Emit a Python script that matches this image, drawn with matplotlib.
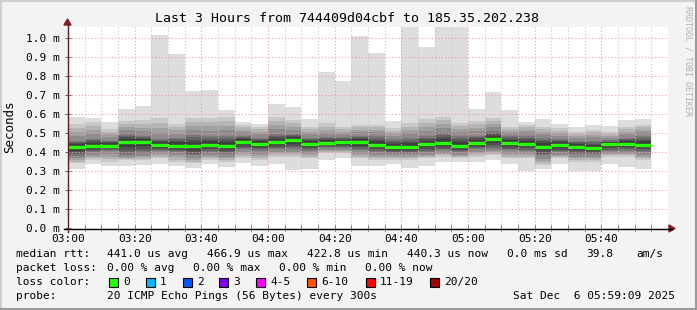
import matplotlib
matplotlib.use("Agg")
import matplotlib.pyplot as plt
from matplotlib.lines import Line2D
from matplotlib.patches import Rectangle, Polygon
import numpy as np

# ---- data (milliseconds), one bar per 5-minute step starting 03:00 ----
rtt_max = [0.588, 0.582, 0.560, 0.628, 0.644, 1.018, 0.918, 0.723, 0.728, 0.623,
           0.560, 0.549, 0.654, 0.639, 0.575, 0.823, 0.775, 1.012, 0.923, 0.565,
           1.100, 0.954, 1.100, 1.100, 0.628, 0.718, 0.623, 0.560, 0.575, 0.549,
           0.533, 0.544, 0.539, 0.570, 0.575]
rtt_up2 = [0.549, 0.558, 0.523, 0.565, 0.570, 0.579, 0.549, 0.579, 0.582, 0.588,
           0.544, 0.535, 0.588, 0.570, 0.535, 0.553, 0.535, 0.544, 0.544, 0.526,
           0.553, 0.575, 0.588, 0.553, 0.565, 0.579, 0.535, 0.544, 0.535, 0.526,
           0.509, 0.518, 0.509, 0.535, 0.544]
rtt_core_hi = [0.465, 0.474, 0.465, 0.500, 0.491, 0.474, 0.482, 0.500, 0.491, 0.491,
               0.491, 0.482, 0.500, 0.500, 0.482, 0.482, 0.482, 0.491, 0.491, 0.474,
               0.482, 0.491, 0.509, 0.491, 0.491, 0.518, 0.491, 0.491, 0.482, 0.474,
               0.465, 0.465, 0.465, 0.482, 0.491]
rtt_median = [0.426, 0.435, 0.435, 0.453, 0.454, 0.440, 0.435, 0.432, 0.439, 0.433,
              0.453, 0.446, 0.453, 0.463, 0.446, 0.451, 0.454, 0.453, 0.439, 0.428,
              0.428, 0.444, 0.449, 0.435, 0.451, 0.468, 0.449, 0.442, 0.430, 0.437,
              0.428, 0.423, 0.442, 0.446, 0.440]
rtt_core_lo = [0.377, 0.395, 0.404, 0.377, 0.386, 0.404, 0.395, 0.377, 0.395, 0.386,
               0.412, 0.404, 0.412, 0.412, 0.404, 0.421, 0.421, 0.404, 0.395, 0.395,
               0.395, 0.395, 0.404, 0.395, 0.412, 0.412, 0.404, 0.404, 0.377, 0.395,
               0.386, 0.386, 0.404, 0.404, 0.395]
rtt_lo2 = [0.342, 0.360, 0.351, 0.360, 0.360, 0.368, 0.351, 0.342, 0.360, 0.351,
           0.368, 0.360, 0.377, 0.377, 0.368, 0.395, 0.395, 0.368, 0.360, 0.360,
           0.360, 0.368, 0.377, 0.368, 0.377, 0.386, 0.368, 0.368, 0.333, 0.368,
           0.351, 0.351, 0.377, 0.377, 0.360]
rtt_min = [0.312, 0.340, 0.328, 0.328, 0.335, 0.340, 0.330, 0.318, 0.337, 0.323,
           0.342, 0.330, 0.337, 0.307, 0.312, 0.361, 0.372, 0.330, 0.330, 0.340,
           0.319, 0.330, 0.351, 0.347, 0.351, 0.361, 0.337, 0.304, 0.312, 0.340,
           0.302, 0.302, 0.340, 0.325, 0.312]

x_tick_labels = ["03:00", "03:20", "03:40", "04:00", "04:20", "04:40", "05:00", "05:20", "05:40"]
y_ticks = [0.0, 0.1, 0.2, 0.3, 0.4, 0.5, 0.6, 0.7, 0.8, 0.9, 1.0]

loss_labels = ["0", "1", "2", "3", "4-5", "6-10", "11-19", "20/20"]
loss_colors = ["#26ff00", "#00b8ff", "#0059ff", "#7e00ff", "#ff00ff", "#ff5500", "#ff0000", "#a10000"]

title = "Last 3 Hours from 744409d04cbf to 185.35.202.238"

# ---- figure ----
W, H = 697, 310
DPI = 100
MONO = "DejaVu Sans Mono"
plt.rcParams["font.family"] = [MONO]

fig = plt.figure(figsize=(W / DPI, H / DPI), dpi=DPI, facecolor="#f3f3f3")

def fx(px):
    return px / W

def fy(py):
    return 1 - py / H

x_left, x_right = 68, 668
y_top, y_bot = 27.3, 228.3
ax = fig.add_axes([fx(x_left), fy(y_bot), (x_right - x_left) / W, (y_bot - y_top) / H])
ax.set_facecolor("white")
ax.set_xlim(0, 180)
ax.set_ylim(0, (y_bot - y_top) / 190.0)

n = len(rtt_median)
xs = np.arange(n) * 5.0
step = 5.0

# smoke layers (outer to inner)
ax.bar(xs, np.array(rtt_max) - np.array(rtt_min), bottom=rtt_min, width=step,
       align="edge", color="#dddddd", linewidth=0, zorder=1)

lo2 = np.array(rtt_lo2); up2 = np.array(rtt_up2)
clo = np.array(rtt_core_lo); chi = np.array(rtt_core_hi)
med = np.array(rtt_median)
shades_outer = ["#c8c8c8", "#b4b4b4", "#a0a0a0", "#8c8c8c"]
for k, c in enumerate(shades_outer):
    f = k / len(shades_outer)
    lo = lo2 + (clo - lo2) * f
    hi = up2 + (chi - up2) * f
    ax.bar(xs, hi - lo, bottom=lo, width=step, align="edge", color=c, linewidth=0, zorder=2)
shades_core = ["#787878", "#646464", "#505050", "#3e3e3e"]
for k, c in enumerate(shades_core):
    f = 0.15 + k / len(shades_core) * 0.8
    lo = clo + (med - 0.008 - clo) * f
    hi = chi + (med + 0.008 - chi) * f
    ax.bar(xs, hi - lo, bottom=lo, width=step, align="edge", color=c, linewidth=0, zorder=3)

# median line (green, loss 0)
ax.hlines(rtt_median, xs, xs + step, colors="#26ff00", linewidth=2.4, zorder=5,
          capstyle="butt")

# grid
for m in range(5, 180, 5):
    if m % 20 == 0:
        ax.axvline(m, color="#f09a9a", lw=0.8, ls=(0, (1, 2)), zorder=6)
    else:
        ax.axvline(m, color="#c8c8c8", lw=0.8, ls=(0, (1, 2)), zorder=6)
for yv in y_ticks[1:]:
    ax.axhline(yv, color="#f09a9a", lw=0.8, ls=(0, (1, 2)), zorder=6)

ax.set_xticks(np.arange(0, 180, 20))
ax.set_xticklabels(x_tick_labels)
ax.set_xticks(np.arange(0, 180, 5), minor=True)
ax.set_yticks(y_ticks)
ax.set_yticklabels(["%.1f m" % v for v in y_ticks])
ax.tick_params(axis="both", which="both", direction="inout", length=4, width=0.6,
               colors="#444444", labelcolor="black", labelsize=8)
ax.tick_params(axis="y", pad=4)
ax.tick_params(axis="x", pad=2)
for s in ax.spines.values():
    s.set_visible(False)

# axis lines with arrows (figure pixel coordinates)
fig.add_artist(Line2D([fx(64), fx(672)], [fy(228.5), fy(228.5)], color="black", lw=1.0))
fig.add_artist(Polygon([[fx(669), fy(225)], [fx(675), fy(228.5)], [fx(669), fy(232)]],
                       closed=True, color="#8b1a1a", transform=fig.transFigure))
fig.add_artist(Line2D([fx(67.5), fx(67.5)], [fy(232), fy(24)], color="#5a2020", lw=1.0))
fig.add_artist(Polygon([[fx(64), fy(25)], [fx(67.5), fy(19)], [fx(71), fy(25)]],
                       closed=True, color="#8b1a1a", transform=fig.transFigure))

# title and labels
fig.text(fx(347), fy(19), title, ha="center", va="center", fontsize=9.5, family=MONO)
fig.text(fx(10), fy(127), "Seconds", ha="center", va="center", rotation=90, fontsize=9, family=MONO)
fig.text(fx(688), fy(6), "RRDTOOL / TOBI OETIKER", ha="center", va="top", rotation=270,
         fontsize=6, color="#b0b0b0", family=MONO)

# legend rows
fs = 8
def t(x, y, s):
    fig.text(fx(x), fy(y), s, ha="left", va="center", fontsize=fs, family=MONO)

r1, r2, r3, r4 = 254, 268, 282, 296
t(16, r1, "median rtt:")
t(107, r1, "441.0 us avg")
t(207, r1, "466.9 us max")
t(307, r1, "422.8 us min")
t(407, r1, "440.3 us now")
t(507, r1, "0.0 ms sd")
t(586, r1, "39.8")
t(636, r1, "am/s")

t(16, r2, "packet loss:")
t(107, r2, "0.00 % avg")
t(193, r2, "0.00 % max")
t(279, r2, "0.00 % min")
t(365, r2, "0.00 % now")

t(16, r3, "loss color:")
box_x = [109, 146, 183, 219, 256, 307, 366, 430]
for bx, lab, col in zip(box_x, loss_labels, loss_colors):
    fig.add_artist(Rectangle((fx(bx), fy(r3 + 4.5)), 8.5 / W, 8.5 / H, facecolor=col,
                             edgecolor="black", lw=0.8, transform=fig.transFigure))
    t(bx + 14, r3, lab)

t(16, r4, "probe:")
t(107, r4, "20 ICMP Echo Pings (56 Bytes) every 300s")
t(513, r4, "Sat Dec  6 05:59:09 2025")

# outer frame
fig.add_artist(Line2D([0, 1], [fy(0.5), fy(0.5)], color="#cfcfcf", lw=1.5))
fig.add_artist(Line2D([fx(0.5), fx(0.5)], [0, 1], color="#cfcfcf", lw=1.5))
fig.add_artist(Line2D([0, 1], [fy(309), fy(309)], color="#9a9a9a", lw=1.5))
fig.add_artist(Line2D([fx(696), fx(696)], [0, 1], color="#9a9a9a", lw=1.5))

fig.savefig("out.png", dpi=DPI, facecolor=fig.get_facecolor())
